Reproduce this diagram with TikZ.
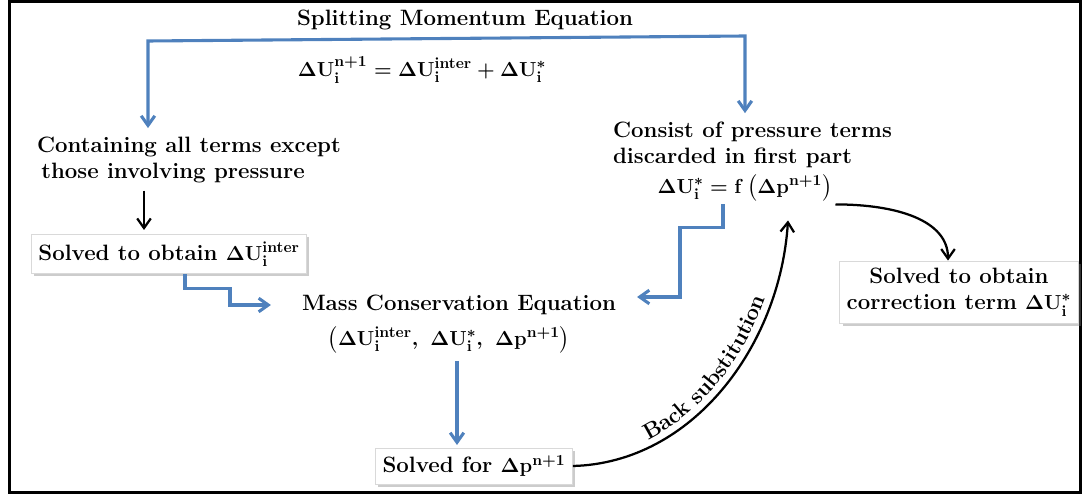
\documentclass[tikz,border=0pt]{standalone}
\usepackage{amsmath,amssymb}
\usepackage{tikz}
\usetikzlibrary{positioning,arrows.meta,shadows,decorations.text}
\usepackage{xcolor}
\definecolor{flowblue}{RGB}{79,129,189}
\newcommand{\dU}{\mathbf{\Delta U}}
\newcommand{\bi}{\mathbf{i}}
\newcommand{\dpn}{\mathbf{\Delta p}^{\mathbf{n+1}}}

\begin{document}
\begin{tikzpicture}[x=0.025cm,y=-0.025cm,
  >={Straight Barb[length=2.4mm,width=3.4mm]},
  every node/.style={font=\fontsize{15.8}{18.8}\selectfont\bfseries\boldmath,inner sep=2pt},
  txt/.style={align=left},
  solvebox/.style={draw=gray!30,fill=white,inner sep=5pt,
    drop shadow={opacity=0.4,shadow xshift=0.7mm,shadow yshift=-0.7mm}},
  bluearr/.style={->,flowblue,line width=2.2pt},
  blackarr/.style={->,black,line width=1.6pt}]

\useasboundingbox (0,0) rectangle (1086,498);
\draw[line width=2.4pt] (9.5,1.5) rectangle (1080.5,492.5);

% momentum splitting
\node (title) at (465,20) {Splitting Momentum Equation};
\node (topeq) at (422,70) {$\dU_{\bi}^{\mathbf{n+1}}=\dU_{\bi}^{\mathbf{inter}}+\dU_{\bi}^{*}$};
\node[txt,anchor=west] (contain) at (34,160) {Containing all terms except\\\hspace{3pt}those involving pressure};
\node[txt,anchor=west] (consist) at (610,145) {Consist of pressure terms\\discarded in first part};
\node (ustar) at (745,188) {$\dU_{\bi}^{*}=\mathbf{f}\left(\dpn\right)$};

% solving steps
\node[solvebox] (uinter) at (169,254) {Solved to obtain $\dU_{\bi}^{\mathbf{inter}}$};
\node (mass) at (459,305) {Mass Conservation Equation};
\node (masseq) at (449,340) {$\left(\dU_{\bi}^{\mathbf{inter}},\ \dU_{\bi}^{*},\ \dpn\right)$};
\node[solvebox] (psolve) at (474,466) {Solved for $\dpn$};
\node[solvebox,align=center] (corr) at (959,292) {Solved to obtain\\correction term $\dU_{\bi}^{*}$};

% connectors
\coordinate (splitL) at (148,41);
\coordinate (splitR) at (745,36);
\coordinate (downx) at (144,0);
\coordinate (backtip) at ([xshift=1.075cm,yshift=-0.4cm]ustar.south);
\draw[bluearr,<->,shorten <=4pt,shorten >=4pt] (contain.north -| splitL) -- (splitL) -- (splitR) -- (splitR |- consist.north);
\draw[blackarr,shorten <=3pt,shorten >=3pt] (contain.south -| downx) -- (uinter.north -| downx);
\draw[bluearr] ([xshift=0.4cm]uinter.south) -- ++(0,15) -- ++(45,0) |- ([xshift=-0.7cm]mass.west);
\draw[bluearr] ([xshift=-0.55cm]ustar.south) -- ++(0,23) -- ++(-43,0) |- ([xshift=0.45cm,yshift=0.2cm]mass.east);
\draw[bluearr,shorten <=3pt,shorten >=2pt] ([xshift=0.2cm]masseq.south) -- ([xshift=0.2cm]masseq.south |- psolve.north);
\draw[blackarr] (psolve.east) .. controls +(120,-3) and +(-8,125) .. (backtip);
\path[decorate,decoration={text along path,text align=center,raise=5pt,
  text={|\fontsize{15.8}{18}\selectfont\bfseries|Back substitution}}]
  (psolve.east) .. controls +(120,-3) and +(-8,125) .. (backtip);
\draw[blackarr] (ustar.south east) .. controls +(62,0) and +(0,-40) .. ([xshift=-0.275cm]corr.north);
\end{tikzpicture}
\end{document}
